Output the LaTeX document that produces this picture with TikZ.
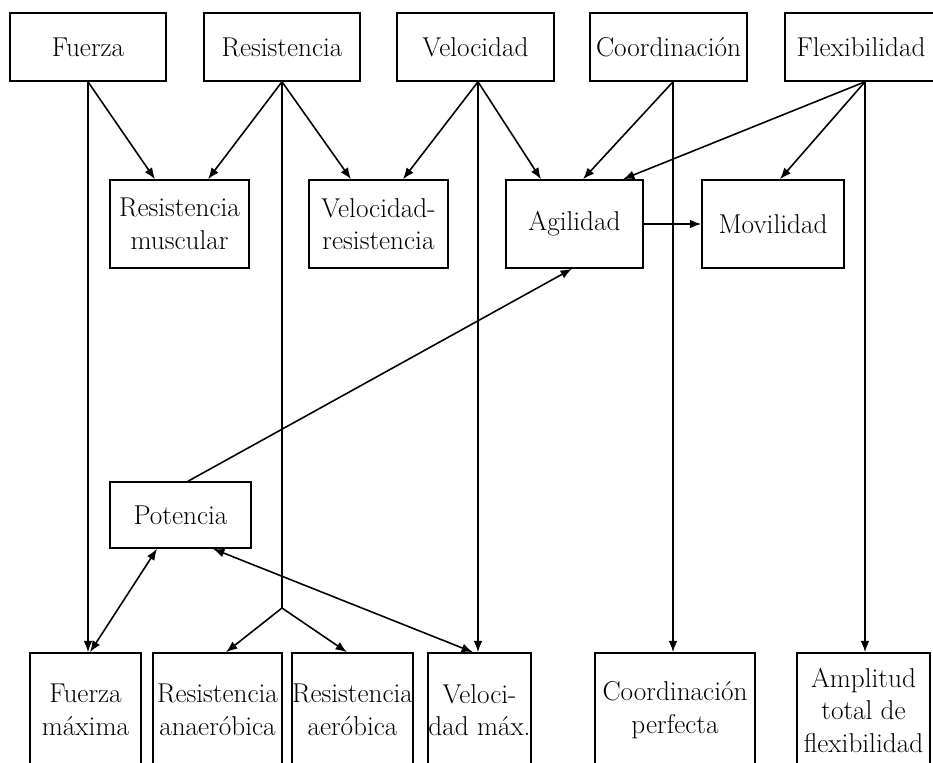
\documentclass[tikz,border=0pt]{standalone}
\usepackage{tikz}
\usetikzlibrary{calc,arrows.meta}
\usetikzlibrary{positioning}

\begin{document}
\begin{tikzpicture}[x=0.02cm, y=-0.02cm, >={Latex[length=6.5pt,width=5pt]}, line width=0.9pt,
    box/.style={draw, rectangle, inner sep=0pt, align=center, font=\fontsize{15.5}{18.5}\selectfont},
    topbox/.style={box, minimum height=1.36cm},
    midbox/.style={box, minimum height=1.76cm},
    lowbox/.style={box, minimum height=2.28cm}]
    \fill[white] (0,0) rectangle (933,762);
    \useasboundingbox (0,0) rectangle (933,762);
    % top row
    \node[topbox, minimum width=3.12cm] (fuerza) at (88,47) {Fuerza};
    \node[topbox, minimum width=3.12cm] (resist) at (282,47) {Resistencia};
    \node[topbox, minimum width=3.14cm] (veloc) at (475.5,47) {Velocidad};
    \node[topbox, minimum width=3.14cm] (coord) at (668.5,47) {Coordinaci\'on};
    \node[topbox, minimum width=3.04cm] (flex) at (861,47) {Flexibilidad};
    % middle row
    \node[midbox, minimum width=2.78cm] (resmusc) at (179.5,224) {Resistencia\\muscular};
    \node[midbox, minimum width=2.78cm] (velres) at (378.5,224) {Velocidad-\\resistencia};
    \node[midbox, minimum width=2.74cm] (agil) at (574.5,224) {Agilidad};
    \node[midbox, minimum width=2.84cm] (movil) at (773,224) {Movilidad};
    \node[box, minimum width=2.82cm, minimum height=1.32cm] (poten) at (180.5,515) {Potencia};
    % bottom row
    \node[lowbox, minimum width=2.22cm] (fmax) at (85.5,710) {Fuerza\\m\'axima};
    \node[lowbox, minimum width=2.58cm] (ranaer) at (217.5,710) {Resistencia\\anaer\'obica};
    \node[lowbox, minimum width=2.42cm] (raer) at (352.5,710) {Resistencia\\aer\'obica};
    \node[lowbox, minimum width=2.06cm] (velmax) at (479.5,710) {Veloci-\\dad m\'ax.};
    \node[lowbox, minimum width=3.20cm] (coordp) at (675,710) {Coordinaci\'on\\perfecta};
    \node[lowbox, minimum width=2.66cm] (amplit) at (863.5,710) {Amplitud\\total de\\flexibilidad};
    \coordinate (split) at (282,608);

    \draw[->] (fuerza.south) -- ([xshift=-0.49cm]resmusc.north);
    \draw[->] (fuerza.south) -- (fuerza.south |- fmax.north);
    \draw[->] (resist.south) -- ([xshift=0.57cm]resmusc.north);
    \draw[->] (resist.south) -- ([xshift=-0.55cm]velres.north);
    \draw (resist.south) -- (split);
    \draw[->] (split) -- ([xshift=0.17cm]ranaer.north);
    \draw[->] (split) -- ([xshift=-0.11cm]raer.north);
    \draw[->] ([xshift=0.05cm]veloc.south) -- ([xshift=0.49cm]velres.north);
    \draw[->] ([xshift=0.05cm]veloc.south) -- ([xshift=-0.67cm]agil.north);
    \draw[->] ([xshift=0.05cm]veloc.south) -- ([xshift=0.05cm]veloc.south |- velmax.north);
    \draw[->] ([xshift=0.09cm]coord.south) -- ([xshift=0.17cm]agil.north);
    \draw[->] ([xshift=0.09cm]coord.south) -- ([xshift=0.09cm]coord.south |- coordp.north);
    \draw[->] ([xshift=0.08cm]flex.south) -- ([xshift=0.97cm]agil.north);
    \draw[->] ([xshift=0.08cm]flex.south) -- ([xshift=0.14cm]movil.north);
    \draw[->] ([xshift=0.08cm]flex.south) -- ([xshift=0.08cm]flex.south |- amplit.north);
    \draw[->] (agil.east) -- (movil.west);
    \draw[->] ([xshift=0.15cm]poten.north) -- ([xshift=-0.05cm]agil.south);
    \draw[<->] ([xshift=-0.47cm]poten.south) -- ([xshift=0.09cm]fmax.north);
    \draw[<->] ([xshift=0.65cm]poten.south) -- ([xshift=-0.13cm]velmax.north);
\end{tikzpicture}
\end{document}
